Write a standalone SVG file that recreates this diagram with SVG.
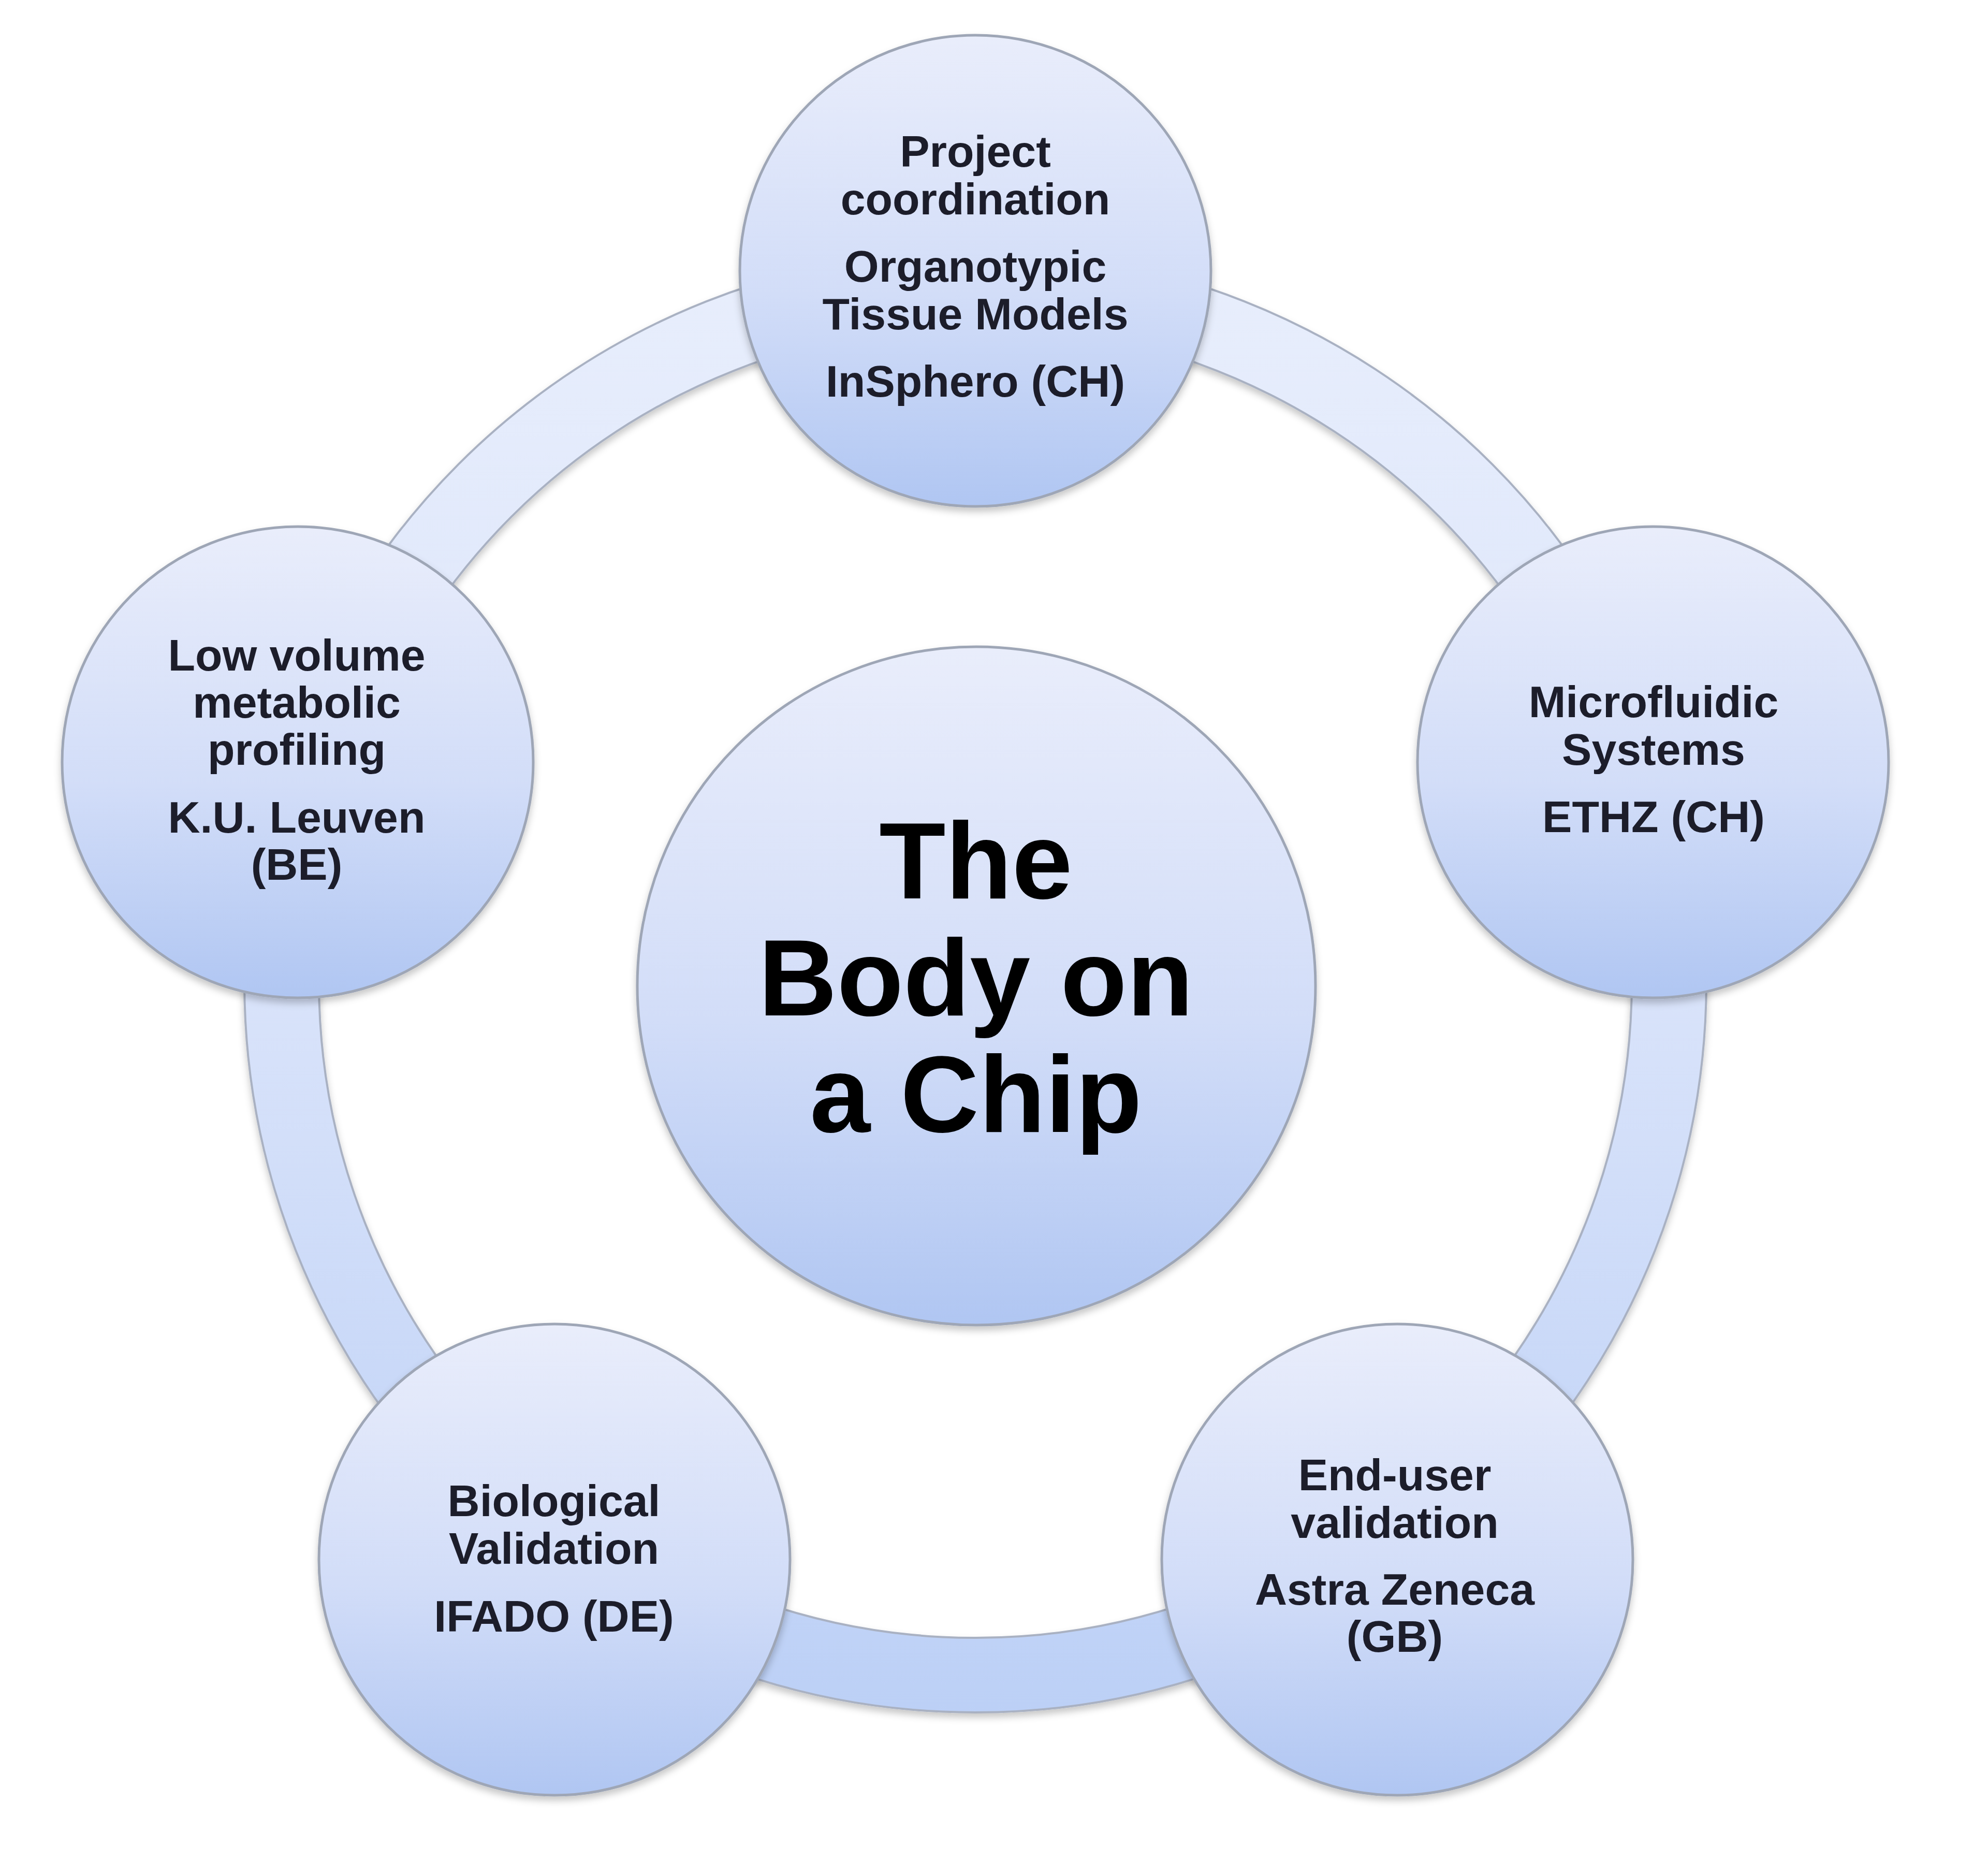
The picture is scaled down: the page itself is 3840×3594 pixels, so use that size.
<svg xmlns="http://www.w3.org/2000/svg" width="3840" height="3594" viewBox="0 0 3840 3594">
  <defs>
    <linearGradient id="nodeFill" x1="0" y1="0" x2="0" y2="1">
      <stop offset="0" stop-color="#e9edfb"/>
      <stop offset="0.55" stop-color="#d2ddf8"/>
      <stop offset="1" stop-color="#b0c6f2"/>
    </linearGradient>
    <linearGradient id="ringFill" x1="0" y1="0" x2="0" y2="1">
      <stop offset="0" stop-color="#e8eefc"/>
      <stop offset="0.5" stop-color="#d9e3fa"/>
      <stop offset="1" stop-color="#bcd0f6"/>
    </linearGradient>
    <filter id="shadow" x="-10%" y="-10%" width="120%" height="125%">
      <feDropShadow dx="0" dy="8" stdDeviation="7" flood-color="#000" flood-opacity="0.22"/>
    </filter>
  </defs>
  <style>
    .node { fill: url(#nodeFill); stroke: #9ea6b6; stroke-width: 5; filter: url(#shadow); }
    .ring { fill: url(#ringFill); fill-rule: evenodd; stroke: #a9b1c2; stroke-width: 4; filter: url(#shadow); }
    .lbl { font-family: "Liberation Sans", Arial, sans-serif; font-weight: bold; font-size: 86px; fill: #1c1d2a; text-anchor: middle; }
    .title { font-family: "Liberation Sans", Arial, sans-serif; font-weight: bold; font-size: 210px; fill: #000; text-anchor: middle; }
  </style>
  <rect x="0" y="0" width="3840" height="3594" fill="#ffffff"/>

  <g id="connectors">
    <path class="ring" d="M 472 1895 A 1412 1412 0 1 0 3296 1895 A 1412 1412 0 1 0 472 1895 Z M 616 1895 A 1268 1268 0 1 1 3152 1895 A 1268 1268 0 1 1 616 1895 Z"/>
  </g>

  <g id="node-center">
    <circle class="node" cx="1886" cy="1904" r="655"/>
    <text class="title" x="1885" y="1735">The</text>
    <text class="title" x="1885" y="1961">Body on</text>
    <text class="title" x="1885" y="2186">a Chip</text>
  </g>

  <g id="node-top">
    <circle class="node" cx="1884" cy="523" r="455"/>
    <text class="lbl" x="1884" y="322">Project</text>
    <text class="lbl" x="1884" y="414">coordination</text>
    <text class="lbl" x="1884" y="544">Organotypic</text>
    <text class="lbl" x="1884" y="636">Tissue Models</text>
    <text class="lbl" x="1884" y="766">InSphero (CH)</text>
  </g>

  <g id="node-right">
    <circle class="node" cx="3193" cy="1472" r="455"/>
    <text class="lbl" x="3194" y="1385">Microfluidic</text>
    <text class="lbl" x="3194" y="1477">Systems</text>
    <text class="lbl" x="3194" y="1607">ETHZ (CH)</text>
  </g>

  <g id="node-bottom-right">
    <circle class="node" cx="2699" cy="3012" r="455"/>
    <text class="lbl" x="2694" y="2878">End-user</text>
    <text class="lbl" x="2694" y="2970">validation</text>
    <text class="lbl" x="2694" y="3099">Astra Zeneca</text>
    <text class="lbl" x="2694" y="3190">(GB)</text>
  </g>

  <g id="node-bottom-left">
    <circle class="node" cx="1071" cy="3012" r="455"/>
    <text class="lbl" x="1070" y="2928">Biological</text>
    <text class="lbl" x="1070" y="3020">Validation</text>
    <text class="lbl" x="1070" y="3151">IFADO (DE)</text>
  </g>

  <g id="node-left">
    <circle class="node" cx="575" cy="1472" r="455"/>
    <text class="lbl" x="573" y="1295">Low volume</text>
    <text class="lbl" x="573" y="1386">metabolic</text>
    <text class="lbl" x="573" y="1477">profiling</text>
    <text class="lbl" x="573" y="1608">K.U. Leuven</text>
    <text class="lbl" x="573" y="1699">(BE)</text>
  </g>
</svg>
